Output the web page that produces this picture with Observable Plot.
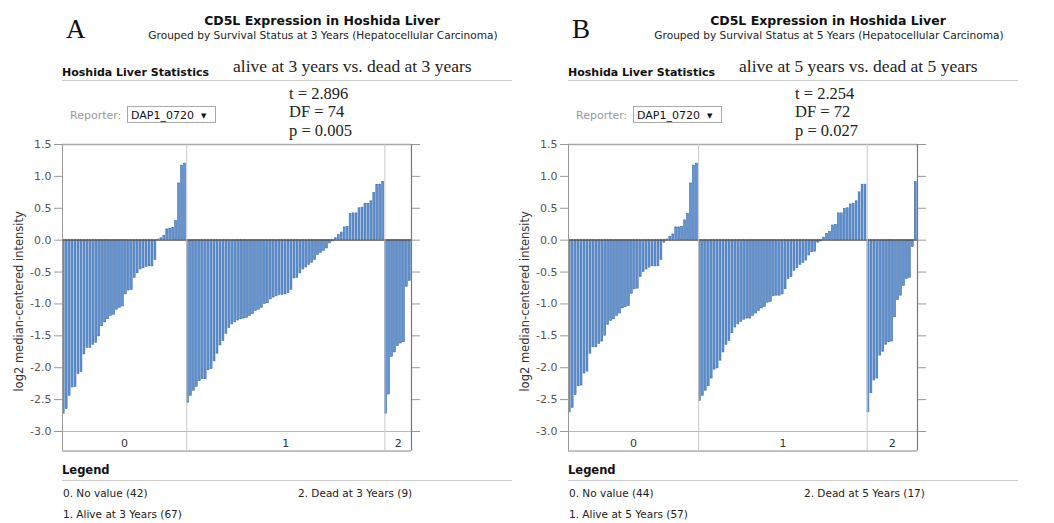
<!DOCTYPE html>
<html><head><meta charset="utf-8">
<script src="https://cdn.jsdelivr.net/npm/d3@7"></script>
<script src="https://cdn.jsdelivr.net/npm/@observablehq/plot@0.6"></script>
<style>
html,body{margin:0;padding:0;background:#fff}
body{width:1054px;height:523px;overflow:hidden;position:relative}
.panel{position:absolute;top:140px}
#overlay{position:absolute;left:0;top:0}
</style></head>
<body>
<svg id="overlay" width="1054" height="523"></svg>
<div id="pA" class="panel" style="left:0px"></div>
<div id="pB" class="panel" style="left:506px"></div>
<script>
// ---- data ----
const panelLetters = ["A", "B"];
const titleText = "CD5L Expression in Hoshida Liver";
const subtitles = [
  "Grouped by Survival Status at 3 Years (Hepatocellular Carcinoma)",
  "Grouped by Survival Status at 5 Years (Hepatocellular Carcinoma)"
];
const statsHeading = "Hoshida Liver Statistics";
const comparisons = ["alive at 3 years vs. dead at 3 years", "alive at 5 years vs. dead at 5 years"];
const tStats = ["t = 2.896", "t = 2.254"];
const dfStats = ["DF = 74", "DF = 72"];
const pStats = ["p = 0.005", "p = 0.027"];
const reporterLabel = "Reporter:";
const reporterValue = "DAP1_0720";
const groupLabels = ["0", "1", "2"];
const yTicks = [1.5, 1.0, 0.5, 0.0, -0.5, -1.0, -1.5, -2.0, -2.5, -3.0];
const yLabel = "log2 median-centered intensity";
const legendTitle = "Legend";
const legendA = ["0. No value (42)", "1. Alive at 3 Years (67)", "2. Dead at 3 Years (9)"];
const legendB = ["0. No value (44)", "1. Alive at 5 Years (57)", "2. Dead at 5 Years (17)"];

const a0 = [-2.72,-2.65,-2.44,-2.31,-2.30,-2.10,-2.07,-1.79,-1.69,-1.69,
  -1.64,-1.61,-1.51,-1.35,-1.29,-1.24,-1.19,-1.17,-1.09,-1.06,
  -1.04,-0.85,-0.79,-0.78,-0.59,-0.52,-0.46,-0.44,-0.42,-0.41,
  -0.41,-0.31,0.01,0.03,0.07,0.17,0.18,0.19,0.30,0.89,
  1.17,1.20];
const a1 = [-2.55,-2.44,-2.36,-2.30,-2.21,-2.18,-2.18,-2.04,-2.02,-1.90,
  -1.78,-1.65,-1.58,-1.47,-1.38,-1.32,-1.29,-1.26,-1.24,-1.23,
  -1.22,-1.19,-1.16,-1.11,-1.09,-1.06,-1.00,-0.99,-0.93,-0.90,
  -0.88,-0.86,-0.86,-0.85,-0.83,-0.78,-0.60,-0.59,-0.52,-0.46,
  -0.43,-0.39,-0.36,-0.31,-0.23,-0.20,-0.17,-0.13,-0.05,-0.02,
  0.03,0.08,0.12,0.20,0.21,0.41,0.42,0.42,0.50,0.51,
  0.57,0.57,0.61,0.74,0.87,0.87,0.91];
const a2 = [-2.72,-2.42,-1.83,-1.76,-1.66,-1.62,-1.60,-0.73,-0.64];

const b0 = [-2.70,-2.63,-2.43,-2.29,-2.28,-2.09,-2.06,-1.78,-1.68,-1.68,
  -1.63,-1.59,-1.50,-1.33,-1.27,-1.24,-1.19,-1.15,-1.07,-1.05,
  -1.03,-0.84,-0.77,-0.76,-0.58,-0.50,-0.46,-0.43,-0.41,-0.41,
  -0.41,-0.31,-0.04,0.01,0.05,0.09,0.20,0.20,0.21,0.31,
  0.41,0.89,1.17,1.20];
const b1 = [-2.52,-2.44,-2.36,-2.29,-2.17,-2.03,-2.01,-1.89,-1.76,-1.64,
  -1.58,-1.46,-1.37,-1.32,-1.28,-1.25,-1.23,-1.23,-1.19,-1.15,
  -1.11,-1.07,-1.05,-0.98,-0.97,-0.88,-0.87,-0.87,-0.85,-0.77,
  -0.61,-0.58,-0.48,-0.44,-0.39,-0.36,-0.32,-0.24,-0.19,-0.18,
  -0.04,-0.02,0.04,0.10,0.13,0.23,0.24,0.42,0.42,0.49,
  0.50,0.56,0.57,0.61,0.75,0.87,0.87];
const b2 = [-2.70,-2.40,-2.20,-2.17,-1.81,-1.75,-1.64,-1.60,-1.59,-1.21,
  -0.94,-0.87,-0.72,-0.61,-0.59,-0.11,0.91];

// ---- chart panels ----
const SANS = "'DejaVu Sans', Verdana, sans-serif";
const SERIF = "'Liberation Serif', 'Times New Roman', serif";
const yBottom = -3.306;
const yLabelRow = -3.19;
const yLabelCenter = -0.96;

function panel(groups) {
  const rows = [];
  let i = 0;
  groups.forEach((g, gi) => g.forEach(v => { rows.push({i, v, g: gi}); i++; }));
  const n = i;
  const b1i = groups[0].length, b2i = groups[0].length + groups[1].length;
  const cats = [
    {x: b1i / 2, t: groupLabels[0]},
    {x: (b1i + b2i) / 2, t: groupLabels[1]},
    {x: (b2i + n) / 2, t: groupLabels[2]}
  ];
  return Plot.plot({
    width: 430, height: 320,
    marginLeft: 62, marginRight: 19, marginTop: 4, marginBottom: 29,
    style: {fontFamily: SANS, fontSize: "11px", color: "#444", background: "transparent", overflow: "visible"},
    x: {domain: [0, n], axis: null},
    y: {domain: [-3, 1.5]},
    marks: [
      Plot.rectY(rows, {x1: d => d.i, x2: d => d.i + 1, y1: 0, y2: "v",
        fill: "#6394cf", stroke: "#3a6cb0", strokeWidth: 0.6, insetLeft: 0.3, insetRight: 0.8}),
      Plot.ruleY([0], {x1: 0, x2: n, stroke: "#555", strokeWidth: 1.2}),
      Plot.ruleY([-3], {x1: 0, x2: n, stroke: "#bbb"}),
      Plot.ruleY([1.5], {x1: 0, x2: n, stroke: "#aaa", strokeWidth: 1.5}),
      Plot.ruleY([yBottom], {x1: 0, x2: n, stroke: "#888"}),
      Plot.ruleX([b1i, b2i], {y1: yBottom, y2: 1.5, stroke: "#c8c8c8"}),
      Plot.ruleX([0], {y1: yBottom, y2: 1.5, stroke: "#999"}),
      Plot.ruleX([n], {y1: yBottom, y2: 1.5, stroke: "#777", strokeWidth: 1.2}),
      Plot.text(cats, {x: "x", y: yLabelRow, text: "t", fill: "#333", fontSize: 11}),
      Plot.axisY({anchor: "left", ticks: yTicks, tickSize: 8, tickPadding: 3,
        tickFormat: d => d3.format(".1f")(d).replace("−", "-"), stroke: "#999", fill: "#555",
        label: null}),
      Plot.text([yLabel], {frameAnchor: "left", y: [yLabelCenter], text: d => d, rotate: -90,
        dx: -43, fontSize: 11.5, fill: "#333", textAnchor: "middle"}),
      Plot.axisY({anchor: "right", ticks: yTicks, tickSize: 8, tickFormat: () => "", label: null, stroke: "#999"})
    ]
  });
}
document.getElementById("pA").appendChild(panel([a0, a1, a2]));
document.getElementById("pB").appendChild(panel([b0, b1, b2]));

// ---- header / legend text ----
const svg = d3.select("#overlay");
function txt(x, y, s, opts = {}) {
  const t = svg.append("text").attr("x", x).attr("y", y).text(s)
    .attr("font-family", opts.family || SANS)
    .attr("font-size", opts.size || 11)
    .attr("fill", opts.fill || "#222");
  if (opts.bold) t.attr("font-weight", "bold");
  if (opts.anchor) t.attr("text-anchor", opts.anchor);
  return t;
}
function line(x1, x2, y, c) {
  svg.append("line").attr("x1", x1).attr("x2", x2).attr("y1", y).attr("y2", y)
    .attr("stroke", c || "#ccc").attr("stroke-width", 1);
}
[0, 1].forEach(p => {
  const o = p * 506;
  const leg = p ? legendB : legendA;
  txt(o + 66, 38, panelLetters[p], {family: SERIF, size: 27, fill: "#111"});
  txt(o + 322, 25, titleText, {bold: true, size: 12.5, anchor: "middle", fill: "#111"});
  txt(o + 323, 39, subtitles[p], {size: 10.6, anchor: "middle", fill: "#222"});
  txt(o + 62, 76, statsHeading, {bold: true, size: 11, fill: "#111"});
  txt(o + 233, 72, comparisons[p], {family: SERIF, size: 17.5, fill: "#222"});
  line(o + 62, o + 512, 80.5, "#ccc");
  txt(o + 70, 119, reporterLabel, {size: 11, fill: "#999"});
  svg.append("rect").attr("x", o + 127.5).attr("y", 106.5).attr("width", 88).attr("height", 16)
    .attr("fill", "#fff").attr("stroke", "#aaa");
  txt(o + 131, 119, reporterValue, {size: 11, fill: "#111"});
  txt(o + 201, 118, "▼", {size: 7, fill: "#111"});
  txt(o + 289, 98.5, tStats[p], {family: SERIF, size: 16.5, fill: "#222"});
  txt(o + 289, 117, dfStats[p], {family: SERIF, size: 16.5, fill: "#222"});
  txt(o + 289, 135.5, pStats[p], {family: SERIF, size: 16.5, fill: "#222"});
  txt(o + 62, 474, legendTitle, {bold: true, size: 11.5, fill: "#111"});
  line(o + 62, o + 512, 480.5, "#ccc");
  txt(o + 63, 497, leg[0], {size: 10.5, fill: "#222"});
  txt(o + 63, 518, leg[1], {size: 10.5, fill: "#222"});
  txt(o + 298, 497, leg[2], {size: 10.5, fill: "#222"});
});
</script>
</body></html>
